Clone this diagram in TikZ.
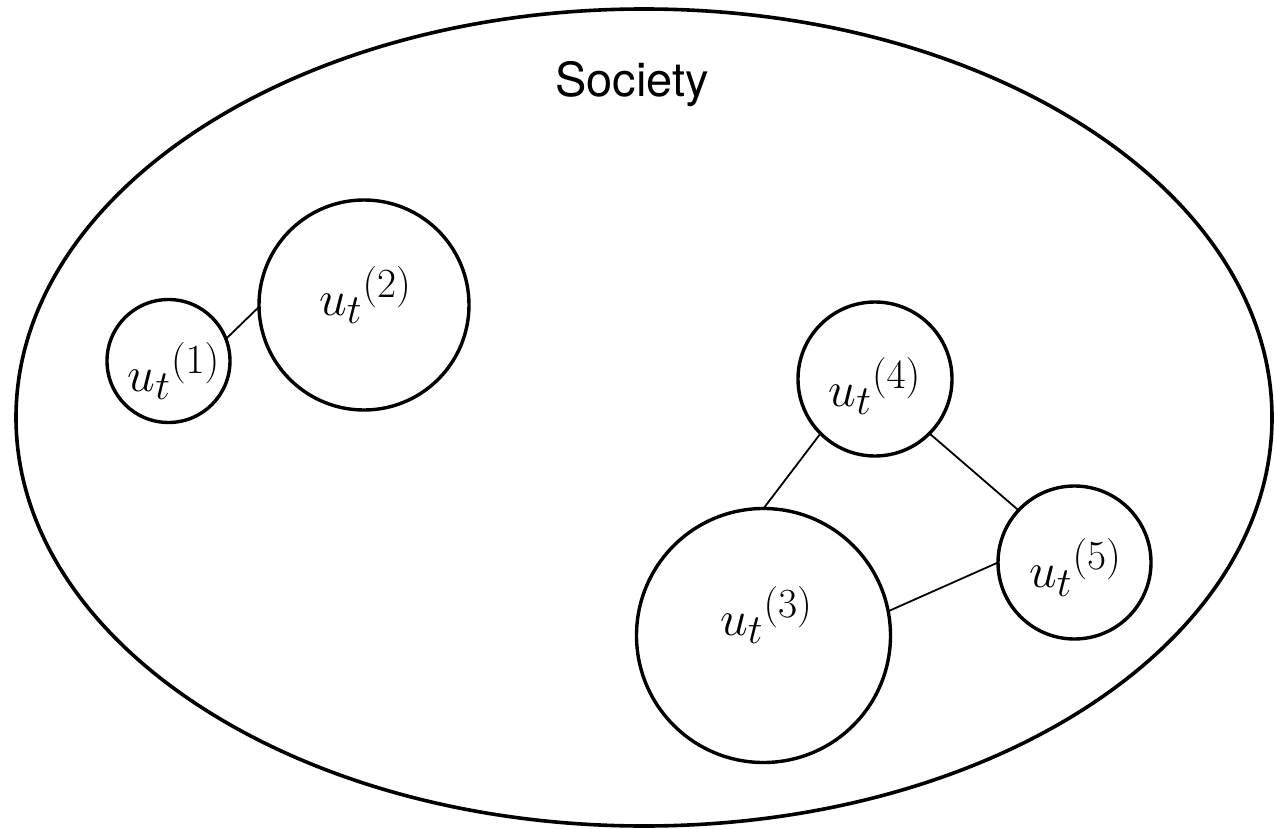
\documentclass[tikz,border=0pt]{standalone}
\usepackage{fontspec}
\newfontfamily\socfont{TeX Gyre Heros}
\usetikzlibrary{calc}
\tikzset{
  ucirc/.style={draw, circle, line width=1.7pt, inner sep=0pt, outer sep=0pt},
  ulbl/.style={inner sep=0pt, font=\fontsize{30.5}{34}\selectfont},
  uedge/.style={line width=0.9pt},
}
\begin{document}
\begin{tikzpicture}[x=0.5pt,y=-0.5pt]
\useasboundingbox (0,0) rectangle (1274,829);
\draw[line width=1.8pt] (644,417.5) ellipse [x radius=314pt, y radius=204.25pt];
\node[font=\socfont\fontsize{23.5}{28}\selectfont, anchor=base, inner sep=0pt] (soc) at (632,97) {Society};
\node[ucirc, minimum size=61.5pt] (u1) at (168.5,361) {};
\node[ucirc, minimum size=105pt] (u2) at (364,305) {};
\node[ucirc, minimum size=127pt] (u3) at (763.5,635.5) {};
\node[ucirc, minimum size=77pt] (u4) at (875,379) {};
\node[ucirc, minimum size=76.5pt] (u5) at (1074.5,562.5) {};
\node[ulbl] (l1) at (174,371) {${u_t}^{(1)}$};
\node[ulbl] (l2) at (365.5,295) {${u_t}^{(2)}$};
\node[ulbl] (l3) at (766.5,615) {${u_t}^{(3)}$};
\node[ulbl] (l4) at (875,386) {${u_t}^{(4)}$};
\node[ulbl] (l5) at (1075.5,567.5) {${u_t}^{(5)}$};
\draw[uedge] (u1.21) -- (u2.181);
\draw[uedge] (u4.225) -- (u3.90);
\draw[uedge] (u4.-45) -- (u5.137);
\draw[uedge] (u3.11) -- (u5.180);
\end{tikzpicture}
\end{document}
